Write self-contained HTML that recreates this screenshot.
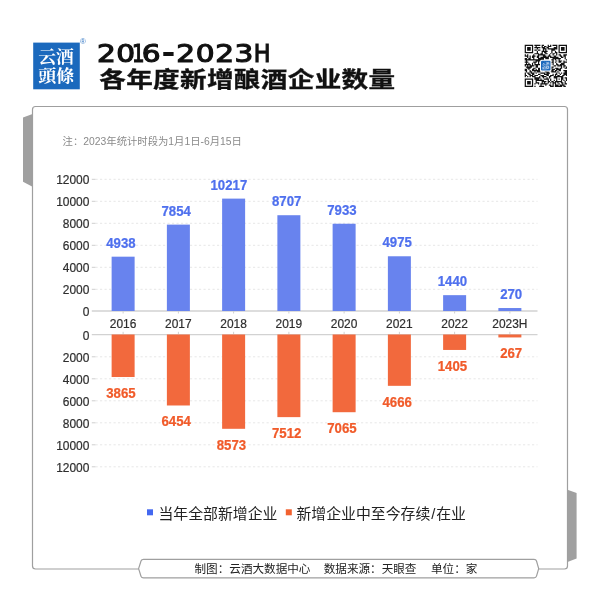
<!DOCTYPE html>
<html lang="zh-CN"><head><meta charset="utf-8"><title>2016-2023H 各年度新增酿酒企业数量</title>
<style>
html,body{margin:0;padding:0;background:#fff;}
body{width:600px;height:600px;position:relative;overflow:hidden;font-family:"Liberation Sans","Noto Sans CJK SC",sans-serif;}
svg{position:absolute;left:0;top:0;display:block}
.ax{font-family:"Liberation Sans","Noto Sans CJK SC",sans-serif;font-size:11.95px;fill:#2e2e2e;stroke:#2e2e2e;stroke-width:0.2px}
.vt{font-family:"Liberation Sans",sans-serif;font-weight:700;font-size:14.2px;fill:#4f70ee;stroke:#4f70ee;stroke-width:0.25px}
.vb{font-family:"Liberation Sans",sans-serif;font-weight:700;font-size:14.2px;fill:#f15b2a;stroke:#f15b2a;stroke-width:0.25px}
.note{font-family:"Liberation Sans","Noto Sans CJK SC",sans-serif;font-size:10.35px;fill:#8a8a8a}
.leg{font-family:"Liberation Sans","Noto Sans CJK SC",sans-serif;font-size:14.88px;fill:#222}
.foot{font-family:"Liberation Sans","Noto Sans CJK SC",sans-serif;font-size:11.6px;fill:#222}
.t1{font-family:"DejaVu Sans",sans-serif;font-weight:400;font-size:24.7px;fill:#111;stroke:#111;stroke-width:1.15px;stroke-linejoin:miter}
.t2{font-family:"Liberation Sans","Noto Sans CJK SC",sans-serif;font-weight:700;font-size:26.6px;fill:#111;stroke:#111;stroke-width:0.45px}
.logo{font-family:"Liberation Serif","Noto Serif CJK SC",serif;font-weight:700;font-size:17.5px;fill:#fff}
</style></head><body>
<svg width="600" height="600" viewBox="0 0 600 600">

<polygon points="23,117.5 32.5,114 32.5,186.7 23,181.7" fill="#a0a0a0"/>
<polygon points="567.5,489.7 576.6,493 576.6,558.4 567.5,562" fill="#a0a0a0"/>
<rect x="32.5" y="106.5" width="535" height="462.5" rx="3" ry="3" fill="#fff" stroke="#9f9f9f" stroke-width="1.2"/>
<path d="M138.6 568.6 L141 561 Q141.6 559.4 143.5 559.4 L534 559.4 Q536 559.4 536.5 561 L538.7 568.6 L536.5 576.2 Q536 577.8 534 577.8 L143.5 577.8 Q141.6 577.8 141 576.2 Z" fill="#fff" stroke="#9f9f9f" stroke-width="1.2" stroke-linejoin="round"/>
<rect x="33.2" y="42.6" width="46.6" height="46.7" fill="#1b69bd"/>
<text class="logo" x="38.2" y="62.6" textLength="35.5" lengthAdjust="spacingAndGlyphs">云酒</text>
<text class="logo" x="38.2" y="81.6" textLength="36" lengthAdjust="spacingAndGlyphs">頭條</text>
<text x="80" y="43.6" font-family="Liberation Sans,sans-serif" font-size="8" fill="#3a7cc7">®</text>
<text class="t1"><tspan x="97.12" y="61.8" textLength="18.85" lengthAdjust="spacingAndGlyphs">2</tspan><tspan x="116.32" y="61.8" textLength="18.85" lengthAdjust="spacingAndGlyphs">0</tspan><tspan x="132.02" y="61.8" textLength="12.57" lengthAdjust="spacingAndGlyphs">1</tspan><tspan x="141.82" y="61.8" textLength="18.85" lengthAdjust="spacingAndGlyphs">6</tspan><tspan x="163.06" y="61.0" textLength="10.88" lengthAdjust="spacingAndGlyphs" style="stroke-width:2px">-</tspan><tspan x="176.32" y="61.8" textLength="18.85" lengthAdjust="spacingAndGlyphs">2</tspan><tspan x="195.82" y="61.8" textLength="18.85" lengthAdjust="spacingAndGlyphs">0</tspan><tspan x="215.32" y="61.8" textLength="18.85" lengthAdjust="spacingAndGlyphs">2</tspan><tspan x="234.57" y="61.8" textLength="18.85" lengthAdjust="spacingAndGlyphs">3</tspan><tspan x="253.64" y="61.8" textLength="16.72" lengthAdjust="spacingAndGlyphs">H</tspan></text>
<g transform="translate(99.2,86.8) scale(1,0.81)"><text class="t2" x="0" y="0" letter-spacing="0.35">各年度新增酿酒企业数量</text></g>
<path d="M524.70 44.70h8.46v1.21h-8.46zM534.37 44.70h6.04v1.21h-6.04zM541.62 44.70h2.42v1.21h-2.42zM547.66 44.70h1.21v1.21h-1.21zM550.08 44.70h1.21v1.21h-1.21zM552.50 44.70h4.83v1.21h-4.83zM558.54 44.70h8.46v1.21h-8.46zM524.70 45.91h1.21v1.21h-1.21zM531.95 45.91h1.21v1.21h-1.21zM535.58 45.91h1.21v1.21h-1.21zM541.62 45.91h1.21v1.21h-1.21zM544.04 45.91h2.42v1.21h-2.42zM547.66 45.91h3.63v1.21h-3.63zM556.12 45.91h1.21v1.21h-1.21zM558.54 45.91h1.21v1.21h-1.21zM565.79 45.91h1.21v1.21h-1.21zM524.70 47.12h1.21v1.21h-1.21zM527.12 47.12h3.63v1.21h-3.63zM531.95 47.12h1.21v1.21h-1.21zM534.37 47.12h6.04v1.21h-6.04zM541.62 47.12h3.63v1.21h-3.63zM546.45 47.12h2.42v1.21h-2.42zM553.71 47.12h3.63v1.21h-3.63zM558.54 47.12h1.21v1.21h-1.21zM560.96 47.12h3.63v1.21h-3.63zM565.79 47.12h1.21v1.21h-1.21zM524.70 48.33h1.21v1.21h-1.21zM527.12 48.33h3.63v1.21h-3.63zM531.95 48.33h1.21v1.21h-1.21zM536.79 48.33h1.21v1.21h-1.21zM542.83 48.33h3.63v1.21h-3.63zM547.66 48.33h9.67v1.21h-9.67zM558.54 48.33h1.21v1.21h-1.21zM560.96 48.33h3.63v1.21h-3.63zM565.79 48.33h1.21v1.21h-1.21zM524.70 49.53h1.21v1.21h-1.21zM527.12 49.53h3.63v1.21h-3.63zM531.95 49.53h1.21v1.21h-1.21zM534.37 49.53h2.42v1.21h-2.42zM537.99 49.53h2.42v1.21h-2.42zM542.83 49.53h1.21v1.21h-1.21zM545.25 49.53h1.21v1.21h-1.21zM551.29 49.53h3.63v1.21h-3.63zM558.54 49.53h1.21v1.21h-1.21zM560.96 49.53h3.63v1.21h-3.63zM565.79 49.53h1.21v1.21h-1.21zM524.70 50.74h1.21v1.21h-1.21zM531.95 50.74h1.21v1.21h-1.21zM536.79 50.74h1.21v1.21h-1.21zM541.62 50.74h6.04v1.21h-6.04zM551.29 50.74h1.21v1.21h-1.21zM554.91 50.74h1.21v1.21h-1.21zM558.54 50.74h1.21v1.21h-1.21zM565.79 50.74h1.21v1.21h-1.21zM524.70 51.95h8.46v1.21h-8.46zM536.79 51.95h1.21v1.21h-1.21zM541.62 51.95h1.21v1.21h-1.21zM544.04 51.95h2.42v1.21h-2.42zM551.29 51.95h1.21v1.21h-1.21zM554.91 51.95h2.42v1.21h-2.42zM558.54 51.95h8.46v1.21h-8.46zM534.37 53.16h4.83v1.21h-4.83zM540.41 53.16h2.42v1.21h-2.42zM545.25 53.16h2.42v1.21h-2.42zM550.08 53.16h1.21v1.21h-1.21zM552.50 53.16h2.42v1.21h-2.42zM556.12 53.16h1.21v1.21h-1.21zM524.70 54.37h1.21v1.21h-1.21zM527.12 54.37h1.21v1.21h-1.21zM533.16 54.37h1.21v1.21h-1.21zM537.99 54.37h7.25v1.21h-7.25zM548.87 54.37h1.21v1.21h-1.21zM552.50 54.37h1.21v1.21h-1.21zM556.12 54.37h1.21v1.21h-1.21zM558.54 54.37h2.42v1.21h-2.42zM563.37 54.37h3.63v1.21h-3.63zM524.70 55.58h3.63v1.21h-3.63zM529.53 55.58h1.21v1.21h-1.21zM531.95 55.58h3.63v1.21h-3.63zM536.79 55.58h2.42v1.21h-2.42zM542.83 55.58h3.63v1.21h-3.63zM547.66 55.58h3.63v1.21h-3.63zM553.71 55.58h2.42v1.21h-2.42zM559.75 55.58h2.42v1.21h-2.42zM563.37 55.58h2.42v1.21h-2.42zM527.12 56.79h1.21v1.21h-1.21zM529.53 56.79h1.21v1.21h-1.21zM531.95 56.79h2.42v1.21h-2.42zM536.79 56.79h2.42v1.21h-2.42zM540.41 56.79h8.46v1.21h-8.46zM550.08 56.79h8.46v1.21h-8.46zM560.96 56.79h2.42v1.21h-2.42zM564.58 56.79h1.21v1.21h-1.21zM524.70 57.99h2.42v1.21h-2.42zM528.33 57.99h2.42v1.21h-2.42zM533.16 57.99h1.21v1.21h-1.21zM537.99 57.99h6.04v1.21h-6.04zM545.25 57.99h3.63v1.21h-3.63zM552.50 57.99h8.46v1.21h-8.46zM564.58 57.99h1.21v1.21h-1.21zM524.70 59.20h19.34v1.21h-19.34zM551.29 59.20h2.42v1.21h-2.42zM554.91 59.20h1.21v1.21h-1.21zM558.54 59.20h1.21v1.21h-1.21zM565.79 59.20h1.21v1.21h-1.21zM525.91 60.41h1.21v1.21h-1.21zM535.58 60.41h6.04v1.21h-6.04zM547.66 60.41h2.42v1.21h-2.42zM552.50 60.41h1.21v1.21h-1.21zM556.12 60.41h1.21v1.21h-1.21zM558.54 60.41h3.63v1.21h-3.63zM563.37 60.41h1.21v1.21h-1.21zM524.70 61.62h3.63v1.21h-3.63zM533.16 61.62h3.63v1.21h-3.63zM537.99 61.62h1.21v1.21h-1.21zM540.41 61.62h3.63v1.21h-3.63zM547.66 61.62h6.04v1.21h-6.04zM554.91 61.62h1.21v1.21h-1.21zM558.54 61.62h2.42v1.21h-2.42zM563.37 61.62h3.63v1.21h-3.63zM525.91 62.83h1.21v1.21h-1.21zM528.33 62.83h1.21v1.21h-1.21zM531.95 62.83h1.21v1.21h-1.21zM534.37 62.83h1.21v1.21h-1.21zM537.99 62.83h1.21v1.21h-1.21zM540.41 62.83h10.88v1.21h-10.88zM552.50 62.83h1.21v1.21h-1.21zM556.12 62.83h1.21v1.21h-1.21zM560.96 62.83h3.63v1.21h-3.63zM524.70 64.04h6.04v1.21h-6.04zM531.95 64.04h1.21v1.21h-1.21zM534.37 64.04h6.04v1.21h-6.04zM550.08 64.04h1.21v1.21h-1.21zM552.50 64.04h1.21v1.21h-1.21zM556.12 64.04h2.42v1.21h-2.42zM559.75 64.04h4.83v1.21h-4.83zM524.70 65.25h1.21v1.21h-1.21zM527.12 65.25h1.21v1.21h-1.21zM529.53 65.25h4.83v1.21h-4.83zM535.58 65.25h2.42v1.21h-2.42zM540.41 65.25h9.67v1.21h-9.67zM553.71 65.25h2.42v1.21h-2.42zM557.33 65.25h4.83v1.21h-4.83zM563.37 65.25h2.42v1.21h-2.42zM525.91 66.45h6.04v1.21h-6.04zM535.58 66.45h2.42v1.21h-2.42zM540.41 66.45h1.21v1.21h-1.21zM542.83 66.45h2.42v1.21h-2.42zM550.08 66.45h3.63v1.21h-3.63zM560.96 66.45h1.21v1.21h-1.21zM563.37 66.45h1.21v1.21h-1.21zM565.79 66.45h1.21v1.21h-1.21zM527.12 67.66h3.63v1.21h-3.63zM533.16 67.66h2.42v1.21h-2.42zM537.99 67.66h2.42v1.21h-2.42zM541.62 67.66h3.63v1.21h-3.63zM548.87 67.66h3.63v1.21h-3.63zM554.91 67.66h3.63v1.21h-3.63zM559.75 67.66h2.42v1.21h-2.42zM564.58 67.66h2.42v1.21h-2.42zM524.70 68.87h2.42v1.21h-2.42zM528.33 68.87h1.21v1.21h-1.21zM531.95 68.87h2.42v1.21h-2.42zM535.58 68.87h1.21v1.21h-1.21zM537.99 68.87h2.42v1.21h-2.42zM541.62 68.87h1.21v1.21h-1.21zM544.04 68.87h4.83v1.21h-4.83zM551.29 68.87h3.63v1.21h-3.63zM556.12 68.87h4.83v1.21h-4.83zM524.70 70.08h2.42v1.21h-2.42zM529.53 70.08h1.21v1.21h-1.21zM531.95 70.08h8.46v1.21h-8.46zM541.62 70.08h1.21v1.21h-1.21zM544.04 70.08h2.42v1.21h-2.42zM548.87 70.08h4.83v1.21h-4.83zM554.91 70.08h2.42v1.21h-2.42zM558.54 70.08h2.42v1.21h-2.42zM563.37 70.08h3.63v1.21h-3.63zM525.91 71.29h1.21v1.21h-1.21zM529.53 71.29h2.42v1.21h-2.42zM534.37 71.29h1.21v1.21h-1.21zM536.79 71.29h3.63v1.21h-3.63zM545.25 71.29h3.63v1.21h-3.63zM551.29 71.29h4.83v1.21h-4.83zM557.33 71.29h1.21v1.21h-1.21zM564.58 71.29h2.42v1.21h-2.42zM524.70 72.50h1.21v1.21h-1.21zM527.12 72.50h2.42v1.21h-2.42zM530.74 72.50h3.63v1.21h-3.63zM535.58 72.50h1.21v1.21h-1.21zM540.41 72.50h4.83v1.21h-4.83zM546.45 72.50h3.63v1.21h-3.63zM556.12 72.50h1.21v1.21h-1.21zM558.54 72.50h1.21v1.21h-1.21zM560.96 72.50h1.21v1.21h-1.21zM563.37 72.50h3.63v1.21h-3.63zM524.70 73.71h1.21v1.21h-1.21zM528.33 73.71h2.42v1.21h-2.42zM531.95 73.71h2.42v1.21h-2.42zM537.99 73.71h2.42v1.21h-2.42zM544.04 73.71h4.83v1.21h-4.83zM552.50 73.71h1.21v1.21h-1.21zM554.91 73.71h2.42v1.21h-2.42zM559.75 73.71h1.21v1.21h-1.21zM563.37 73.71h3.63v1.21h-3.63zM524.70 74.91h2.42v1.21h-2.42zM529.53 74.91h3.63v1.21h-3.63zM534.37 74.91h3.63v1.21h-3.63zM540.41 74.91h3.63v1.21h-3.63zM546.45 74.91h2.42v1.21h-2.42zM550.08 74.91h3.63v1.21h-3.63zM554.91 74.91h1.21v1.21h-1.21zM557.33 74.91h2.42v1.21h-2.42zM562.17 74.91h2.42v1.21h-2.42zM565.79 74.91h1.21v1.21h-1.21zM524.70 76.12h1.21v1.21h-1.21zM527.12 76.12h1.21v1.21h-1.21zM529.53 76.12h1.21v1.21h-1.21zM531.95 76.12h3.63v1.21h-3.63zM539.20 76.12h1.21v1.21h-1.21zM541.62 76.12h4.83v1.21h-4.83zM548.87 76.12h2.42v1.21h-2.42zM553.71 76.12h9.67v1.21h-9.67zM534.37 77.33h6.04v1.21h-6.04zM542.83 77.33h1.21v1.21h-1.21zM546.45 77.33h1.21v1.21h-1.21zM548.87 77.33h1.21v1.21h-1.21zM553.71 77.33h3.63v1.21h-3.63zM560.96 77.33h2.42v1.21h-2.42zM564.58 77.33h2.42v1.21h-2.42zM524.70 78.54h8.46v1.21h-8.46zM534.37 78.54h4.83v1.21h-4.83zM540.41 78.54h1.21v1.21h-1.21zM544.04 78.54h4.83v1.21h-4.83zM550.08 78.54h1.21v1.21h-1.21zM556.12 78.54h1.21v1.21h-1.21zM558.54 78.54h1.21v1.21h-1.21zM560.96 78.54h2.42v1.21h-2.42zM565.79 78.54h1.21v1.21h-1.21zM524.70 79.75h1.21v1.21h-1.21zM531.95 79.75h1.21v1.21h-1.21zM535.58 79.75h8.46v1.21h-8.46zM547.66 79.75h1.21v1.21h-1.21zM550.08 79.75h1.21v1.21h-1.21zM553.71 79.75h1.21v1.21h-1.21zM556.12 79.75h1.21v1.21h-1.21zM560.96 79.75h1.21v1.21h-1.21zM563.37 79.75h1.21v1.21h-1.21zM565.79 79.75h1.21v1.21h-1.21zM524.70 80.96h1.21v1.21h-1.21zM527.12 80.96h3.63v1.21h-3.63zM531.95 80.96h1.21v1.21h-1.21zM535.58 80.96h1.21v1.21h-1.21zM541.62 80.96h4.83v1.21h-4.83zM547.66 80.96h2.42v1.21h-2.42zM551.29 80.96h2.42v1.21h-2.42zM554.91 80.96h7.25v1.21h-7.25zM564.58 80.96h1.21v1.21h-1.21zM524.70 82.17h1.21v1.21h-1.21zM527.12 82.17h3.63v1.21h-3.63zM531.95 82.17h1.21v1.21h-1.21zM535.58 82.17h3.63v1.21h-3.63zM541.62 82.17h1.21v1.21h-1.21zM544.04 82.17h1.21v1.21h-1.21zM547.66 82.17h1.21v1.21h-1.21zM550.08 82.17h1.21v1.21h-1.21zM552.50 82.17h3.63v1.21h-3.63zM557.33 82.17h1.21v1.21h-1.21zM560.96 82.17h2.42v1.21h-2.42zM564.58 82.17h1.21v1.21h-1.21zM524.70 83.37h1.21v1.21h-1.21zM527.12 83.37h3.63v1.21h-3.63zM531.95 83.37h1.21v1.21h-1.21zM534.37 83.37h1.21v1.21h-1.21zM537.99 83.37h1.21v1.21h-1.21zM540.41 83.37h7.25v1.21h-7.25zM552.50 83.37h1.21v1.21h-1.21zM554.91 83.37h1.21v1.21h-1.21zM558.54 83.37h1.21v1.21h-1.21zM562.17 83.37h1.21v1.21h-1.21zM564.58 83.37h2.42v1.21h-2.42zM524.70 84.58h1.21v1.21h-1.21zM531.95 84.58h1.21v1.21h-1.21zM540.41 84.58h1.21v1.21h-1.21zM545.25 84.58h1.21v1.21h-1.21zM548.87 84.58h2.42v1.21h-2.42zM552.50 84.58h1.21v1.21h-1.21zM554.91 84.58h3.63v1.21h-3.63zM559.75 84.58h4.83v1.21h-4.83zM524.70 85.79h8.46v1.21h-8.46zM534.37 85.79h1.21v1.21h-1.21zM539.20 85.79h4.83v1.21h-4.83zM550.08 85.79h3.63v1.21h-3.63zM554.91 85.79h7.25v1.21h-7.25zM563.37 85.79h2.42v1.21h-2.42z" fill="#111"/>
<rect x="540" y="59.8" width="11.5" height="11.7" rx="1.5" fill="#fff"/>
<rect x="541" y="60.8" width="9.5" height="9.7" rx="1" fill="#1b69bd"/>
<text x="545.75" y="65.3" text-anchor="middle" font-family="Liberation Serif,Noto Serif CJK SC,serif" font-weight="700" font-size="3.7" fill="#dfe9f6">云酒</text>
<text x="545.75" y="69.2" text-anchor="middle" font-family="Liberation Serif,Noto Serif CJK SC,serif" font-weight="700" font-size="3.7" fill="#dfe9f6">頭條</text>
<text class="note" x="62.6" y="145">注：2023年统计时段为1月1日-6月15日</text>
<line x1="95.5" x2="537.5" y1="289.30" y2="289.30" stroke="#e7e7e7" stroke-width="1" stroke-dasharray="2.2 2.3"/>
<line x1="91.8" x2="95.5" y1="289.30" y2="289.30" stroke="#cfcfcf" stroke-width="1"/>
<line x1="95.5" x2="537.5" y1="356.80" y2="356.80" stroke="#e7e7e7" stroke-width="1" stroke-dasharray="2.2 2.3"/>
<line x1="91.8" x2="95.5" y1="356.80" y2="356.80" stroke="#cfcfcf" stroke-width="1"/>
<line x1="95.5" x2="537.5" y1="267.30" y2="267.30" stroke="#e7e7e7" stroke-width="1" stroke-dasharray="2.2 2.3"/>
<line x1="91.8" x2="95.5" y1="267.30" y2="267.30" stroke="#cfcfcf" stroke-width="1"/>
<line x1="95.5" x2="537.5" y1="378.80" y2="378.80" stroke="#e7e7e7" stroke-width="1" stroke-dasharray="2.2 2.3"/>
<line x1="91.8" x2="95.5" y1="378.80" y2="378.80" stroke="#cfcfcf" stroke-width="1"/>
<line x1="95.5" x2="537.5" y1="245.30" y2="245.30" stroke="#e7e7e7" stroke-width="1" stroke-dasharray="2.2 2.3"/>
<line x1="91.8" x2="95.5" y1="245.30" y2="245.30" stroke="#cfcfcf" stroke-width="1"/>
<line x1="95.5" x2="537.5" y1="400.80" y2="400.80" stroke="#e7e7e7" stroke-width="1" stroke-dasharray="2.2 2.3"/>
<line x1="91.8" x2="95.5" y1="400.80" y2="400.80" stroke="#cfcfcf" stroke-width="1"/>
<line x1="95.5" x2="537.5" y1="223.30" y2="223.30" stroke="#e7e7e7" stroke-width="1" stroke-dasharray="2.2 2.3"/>
<line x1="91.8" x2="95.5" y1="223.30" y2="223.30" stroke="#cfcfcf" stroke-width="1"/>
<line x1="95.5" x2="537.5" y1="422.80" y2="422.80" stroke="#e7e7e7" stroke-width="1" stroke-dasharray="2.2 2.3"/>
<line x1="91.8" x2="95.5" y1="422.80" y2="422.80" stroke="#cfcfcf" stroke-width="1"/>
<line x1="95.5" x2="537.5" y1="201.30" y2="201.30" stroke="#e7e7e7" stroke-width="1" stroke-dasharray="2.2 2.3"/>
<line x1="91.8" x2="95.5" y1="201.30" y2="201.30" stroke="#cfcfcf" stroke-width="1"/>
<line x1="95.5" x2="537.5" y1="444.80" y2="444.80" stroke="#e7e7e7" stroke-width="1" stroke-dasharray="2.2 2.3"/>
<line x1="91.8" x2="95.5" y1="444.80" y2="444.80" stroke="#cfcfcf" stroke-width="1"/>
<line x1="95.5" x2="537.5" y1="179.30" y2="179.30" stroke="#e7e7e7" stroke-width="1" stroke-dasharray="2.2 2.3"/>
<line x1="91.8" x2="95.5" y1="179.30" y2="179.30" stroke="#cfcfcf" stroke-width="1"/>
<line x1="95.5" x2="537.5" y1="466.80" y2="466.80" stroke="#e7e7e7" stroke-width="1" stroke-dasharray="2.2 2.3"/>
<line x1="91.8" x2="95.5" y1="466.80" y2="466.80" stroke="#cfcfcf" stroke-width="1"/>
<line x1="91.8" x2="537.5" y1="311.05" y2="311.05" stroke="#d2d2d2" stroke-width="1.4"/>
<line x1="91.8" x2="537.5" y1="334.6" y2="334.6" stroke="#d2d2d2" stroke-width="1.4"/>
<text class="ax" x="89.4" y="315.90" text-anchor="end">0</text>
<text class="ax" x="89.4" y="339.60" text-anchor="end">0</text>
<text class="ax" x="89.4" y="293.90" text-anchor="end">2000</text>
<text class="ax" x="89.4" y="361.60" text-anchor="end">2000</text>
<text class="ax" x="89.4" y="271.90" text-anchor="end">4000</text>
<text class="ax" x="89.4" y="383.60" text-anchor="end">4000</text>
<text class="ax" x="89.4" y="249.90" text-anchor="end">6000</text>
<text class="ax" x="89.4" y="405.60" text-anchor="end">6000</text>
<text class="ax" x="89.4" y="227.90" text-anchor="end">8000</text>
<text class="ax" x="89.4" y="427.60" text-anchor="end">8000</text>
<text class="ax" x="89.4" y="205.90" text-anchor="end">10000</text>
<text class="ax" x="89.4" y="449.60" text-anchor="end">10000</text>
<text class="ax" x="89.4" y="183.90" text-anchor="end">12000</text>
<text class="ax" x="89.4" y="471.60" text-anchor="end">12000</text>
<line x1="123.12" x2="123.12" y1="311" y2="313.5" stroke="#d0d0d0" stroke-width="1"/>
<line x1="123.12" x2="123.12" y1="331.8" y2="334.25" stroke="#d0d0d0" stroke-width="1"/>
<rect x="111.62" y="256.68" width="23" height="54.32" fill="#6883ee"/>
<rect x="111.62" y="334.50" width="23" height="42.52" fill="#f2693d"/>
<text class="ax" x="123.12" y="328.2" text-anchor="middle">2016</text>
<g transform="translate(106.22,247.68) scale(0.93,1)"><text class="vt" x="0" y="0">4938</text></g>
<g transform="translate(106.22,397.91) scale(0.93,1)"><text class="vb" x="0" y="0">3865</text></g>
<line x1="178.38" x2="178.38" y1="311" y2="313.5" stroke="#d0d0d0" stroke-width="1"/>
<line x1="178.38" x2="178.38" y1="331.8" y2="334.25" stroke="#d0d0d0" stroke-width="1"/>
<rect x="166.88" y="224.61" width="23" height="86.39" fill="#6883ee"/>
<rect x="166.88" y="334.50" width="23" height="70.99" fill="#f2693d"/>
<text class="ax" x="178.38" y="328.2" text-anchor="middle">2017</text>
<g transform="translate(161.47,215.61) scale(0.93,1)"><text class="vt" x="0" y="0">7854</text></g>
<g transform="translate(161.47,426.39) scale(0.93,1)"><text class="vb" x="0" y="0">6454</text></g>
<line x1="233.62" x2="233.62" y1="311" y2="313.5" stroke="#d0d0d0" stroke-width="1"/>
<line x1="233.62" x2="233.62" y1="331.8" y2="334.25" stroke="#d0d0d0" stroke-width="1"/>
<rect x="222.12" y="198.61" width="23" height="112.39" fill="#6883ee"/>
<rect x="222.12" y="334.50" width="23" height="94.30" fill="#f2693d"/>
<text class="ax" x="233.62" y="328.2" text-anchor="middle">2018</text>
<g transform="translate(210.53,189.61) scale(0.93,1)"><text class="vt" x="0" y="0">10217</text></g>
<g transform="translate(216.72,449.70) scale(0.93,1)"><text class="vb" x="0" y="0">8573</text></g>
<line x1="288.88" x2="288.88" y1="311" y2="313.5" stroke="#d0d0d0" stroke-width="1"/>
<line x1="288.88" x2="288.88" y1="331.8" y2="334.25" stroke="#d0d0d0" stroke-width="1"/>
<rect x="277.38" y="215.22" width="23" height="95.78" fill="#6883ee"/>
<rect x="277.38" y="334.50" width="23" height="82.63" fill="#f2693d"/>
<text class="ax" x="288.88" y="328.2" text-anchor="middle">2019</text>
<g transform="translate(271.98,206.22) scale(0.93,1)"><text class="vt" x="0" y="0">8707</text></g>
<g transform="translate(271.98,438.03) scale(0.93,1)"><text class="vb" x="0" y="0">7512</text></g>
<line x1="344.12" x2="344.12" y1="311" y2="313.5" stroke="#d0d0d0" stroke-width="1"/>
<line x1="344.12" x2="344.12" y1="331.8" y2="334.25" stroke="#d0d0d0" stroke-width="1"/>
<rect x="332.62" y="223.74" width="23" height="87.26" fill="#6883ee"/>
<rect x="332.62" y="334.50" width="23" height="77.71" fill="#f2693d"/>
<text class="ax" x="344.12" y="328.2" text-anchor="middle">2020</text>
<g transform="translate(327.23,214.74) scale(0.93,1)"><text class="vt" x="0" y="0">7933</text></g>
<g transform="translate(327.23,433.11) scale(0.93,1)"><text class="vb" x="0" y="0">7065</text></g>
<line x1="399.38" x2="399.38" y1="311" y2="313.5" stroke="#d0d0d0" stroke-width="1"/>
<line x1="399.38" x2="399.38" y1="331.8" y2="334.25" stroke="#d0d0d0" stroke-width="1"/>
<rect x="387.88" y="256.27" width="23" height="54.72" fill="#6883ee"/>
<rect x="387.88" y="334.50" width="23" height="51.33" fill="#f2693d"/>
<text class="ax" x="399.38" y="328.2" text-anchor="middle">2021</text>
<g transform="translate(382.48,247.27) scale(0.93,1)"><text class="vt" x="0" y="0">4975</text></g>
<g transform="translate(382.48,406.73) scale(0.93,1)"><text class="vb" x="0" y="0">4666</text></g>
<line x1="454.62" x2="454.62" y1="311" y2="313.5" stroke="#d0d0d0" stroke-width="1"/>
<line x1="454.62" x2="454.62" y1="331.8" y2="334.25" stroke="#d0d0d0" stroke-width="1"/>
<rect x="443.12" y="295.16" width="23" height="15.84" fill="#6883ee"/>
<rect x="443.12" y="334.50" width="23" height="15.45" fill="#f2693d"/>
<text class="ax" x="454.62" y="328.2" text-anchor="middle">2022</text>
<g transform="translate(437.73,286.16) scale(0.93,1)"><text class="vt" x="0" y="0">1440</text></g>
<g transform="translate(437.73,370.85) scale(0.93,1)"><text class="vb" x="0" y="0">1405</text></g>
<line x1="509.88" x2="509.88" y1="311" y2="313.5" stroke="#d0d0d0" stroke-width="1"/>
<line x1="509.88" x2="509.88" y1="331.8" y2="334.25" stroke="#d0d0d0" stroke-width="1"/>
<rect x="498.38" y="308.03" width="23" height="2.97" fill="#6883ee"/>
<rect x="498.38" y="334.50" width="23" height="2.94" fill="#f2693d"/>
<text class="ax" x="509.88" y="328.2" text-anchor="middle">2023H</text>
<g transform="translate(500.18,299.03) scale(0.93,1)"><text class="vt" x="0" y="0">270</text></g>
<g transform="translate(500.18,358.34) scale(0.93,1)"><text class="vb" x="0" y="0">267</text></g>
<rect x="147" y="509.3" width="6" height="6" fill="#4468f0"/>
<text class="leg" x="158.5" y="519.0">当年全部新增企业</text>
<rect x="285.8" y="509.3" width="6" height="6" fill="#f2622f"/>
<text class="leg" x="296.5" y="519.0">新增企业中至今存续<tspan dx="0.85">/</tspan><tspan dx="0.85">在业</tspan></text>
<text class="foot" x="194.5" y="572.8">制图：云酒大数据中心</text>
<text class="foot" x="323.7" y="572.8">数据来源：天眼查</text>
<text class="foot" x="431" y="572.8">单位：家</text>
</svg></body></html>
